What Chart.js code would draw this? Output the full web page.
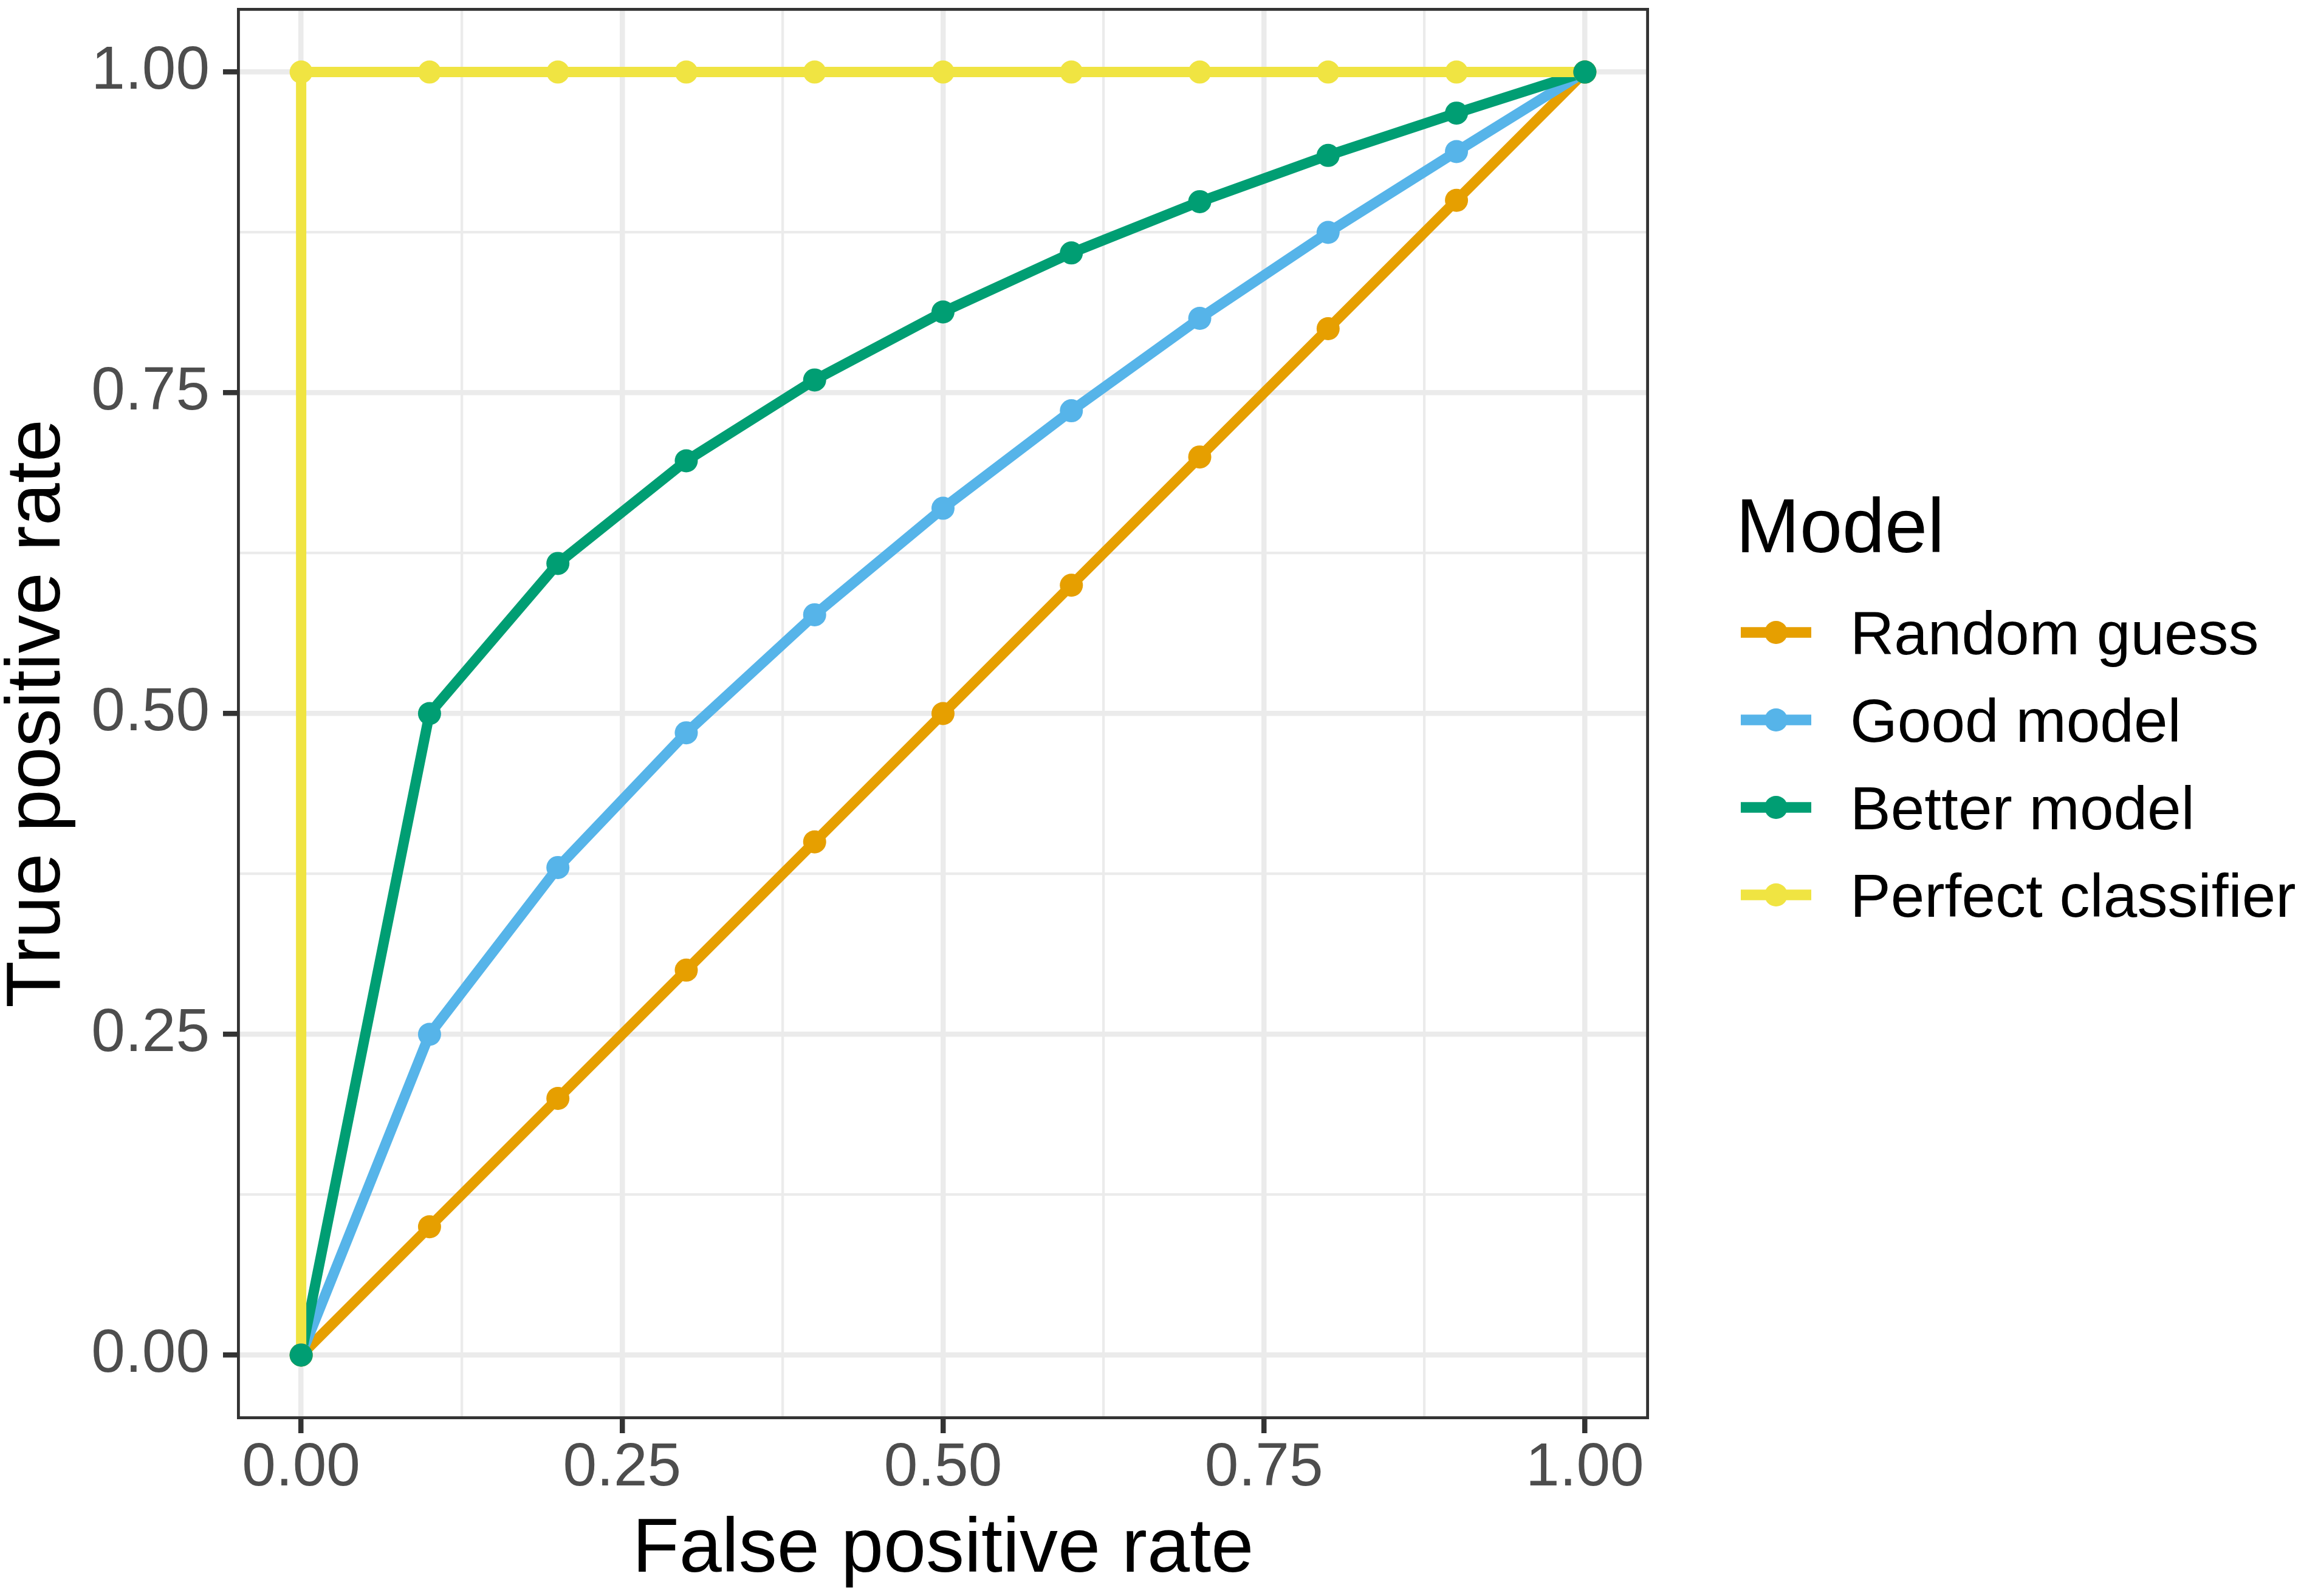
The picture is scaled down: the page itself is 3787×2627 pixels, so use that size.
<!DOCTYPE html>
<html>
<head>
<meta charset="utf-8">
<script src="https://cdn.jsdelivr.net/npm/chart.js@4.4.1/dist/chart.umd.min.js"></script>
<style>
  html, body { margin: 0; padding: 0; background: #ffffff; }
  #wrap { width: 3787px; height: 2627px; position: relative; }
</style>
</head>
<body>
<div id="wrap"><canvas id="c" width="3787" height="2627"></canvas></div>
<script>
// ---- data ----
const seriesNames = ["Random guess", "Good model", "Better model", "Perfect classifier"];
const seriesColors = ["#E69F00", "#56B4E9", "#009E73", "#F0E442"];

const fpr = [0, 0.1, 0.2, 0.3, 0.4, 0.5, 0.6, 0.7, 0.8, 0.9, 1.0];
const randomTpr = [0, 0.1, 0.2, 0.3, 0.4, 0.5, 0.6, 0.7, 0.8, 0.9, 1.0];
const goodTpr = [0, 0.25, 0.38, 0.485, 0.577, 0.66, 0.736, 0.808, 0.875, 0.938, 1.0];
const betterTpr = [0, 0.5, 0.617, 0.697, 0.76, 0.813, 0.859, 0.899, 0.935, 0.968, 1.0];
const perfectFpr = [0, 0, 0.1, 0.2, 0.3, 0.4, 0.5, 0.6, 0.7, 0.8, 0.9, 1.0];
const perfectTpr = [0, 1, 1, 1, 1, 1, 1, 1, 1, 1, 1, 1];

const majorTicks = [0, 0.25, 0.5, 0.75, 1.0];
const minorTicks = [0.125, 0.375, 0.625, 0.875];
const xTitle = "False positive rate";
const yTitle = "True positive rate";
const legendTitle = "Model";

// ---- helpers ----
function pts(xs, ys) { return xs.map((x, i) => ({ x: x, y: ys[i] })); }
const FONT = '"Liberation Sans", Arial, Helvetica, sans-serif';
const isMajor = v => majorTicks.some(m => Math.abs(m - v) < 1e-9);

const seriesData = [
  pts(fpr, randomTpr),
  pts(fpr, goodTpr),
  pts(fpr, betterTpr),
  pts(perfectFpr, perfectTpr)
];

const datasets = [];
// lines (drawn first); last group on top
const lineOrder = [13, 12, 11, 10];
seriesData.forEach((d, i) => {
  datasets.push({
    label: seriesNames[i],
    data: d,
    borderColor: seriesColors[i],
    backgroundColor: seriesColors[i],
    borderWidth: 17,
    borderJoinStyle: 'round',
    borderCapStyle: 'butt',
    pointRadius: 0,
    fill: false,
    tension: 0,
    order: lineOrder[i]
  });
});
// points (drawn over all lines); green on top
const ptOrder = [2, 3, 0, 4];
seriesData.forEach((d, i) => {
  datasets.push({
    label: seriesNames[i] + " points",
    data: d,
    showLine: false,
    pointRadius: 19,
    pointBorderWidth: 0,
    pointBackgroundColor: seriesColors[i],
    pointBorderColor: seriesColors[i],
    order: ptOrder[i]
  });
});

const allTicks = majorTicks.concat(minorTicks).sort((a, b) => a - b);

function axisCommon() {
  return {
    type: 'linear',
    min: -0.05,
    max: 1.05,
    afterBuildTicks: scale => { scale.ticks = allTicks.map(v => ({ value: v })); },
    grid: {
      color: ctx => '#EBEBEB',
      lineWidth: ctx => (ctx.tick && isMajor(ctx.tick.value)) ? 8.5 : 4.25,
      drawTicks: true,
      tickLength: 23,
      tickColor: ctx => (ctx.tick && isMajor(ctx.tick.value)) ? '#333333' : 'rgba(0,0,0,0)',
      tickWidth: ctx => (ctx.tick && isMajor(ctx.tick.value)) ? 8.5 : 0
    },
    border: { display: false },
    ticks: {
      autoSkip: false,
      maxRotation: 0,
      minRotation: 0,
      color: '#4D4D4D',
      font: { family: FONT, size: 100, lineHeight: 1.0 },
      callback: v => isMajor(v) ? Number(v).toFixed(2) : ''
    }
  };
}

const xAxis = axisCommon();
xAxis.position = 'bottom';
xAxis.ticks.padding = 8;
xAxis.title = { display: true, text: xTitle, color: '#000000',
  font: { family: FONT, size: 126, lineHeight: 0.9 }, padding: { top: 0, bottom: 18 } };
xAxis.afterFit = scale => {
  scale.height = 291;
  scale.paddingLeft = 0; scale.paddingRight = 0; scale.paddingTop = 0; scale.paddingBottom = 0;
};

const yAxis = axisCommon();
yAxis.position = 'left';
yAxis.ticks.padding = 22;
yAxis.title = { display: true, text: yTitle, color: '#000000',
  font: { family: FONT, size: 126, lineHeight: 0.9 }, padding: { top: 7, bottom: 0 } };
yAxis.afterFit = scale => {
  scale.width = 390;
  scale.paddingLeft = 0; scale.paddingRight = 0; scale.paddingTop = 0; scale.paddingBottom = 0;
};

const panelBorder = {
  id: 'panelBorder',
  afterDatasetsDraw(chart) {
    const { ctx, chartArea: a } = chart;
    const w = 4.8;
    ctx.save();
    ctx.strokeStyle = '#333333';
    ctx.lineWidth = w;
    ctx.strokeRect(a.left + w / 2, a.top + w / 2, a.right - a.left - w, a.bottom - a.top - w);
    ctx.restore();
  }
};

const ggLegend = {
  id: 'ggLegend',
  afterDraw(chart) {
    const ctx = chart.ctx;
    ctx.save();
    ctx.fillStyle = '#000000';
    ctx.textAlign = 'left';
    ctx.textBaseline = 'alphabetic';
    ctx.font = '126px ' + FONT;
    ctx.fillText(legendTitle, 2857, 909);
    const keyY = [1041, 1185, 1329, 1473];
    seriesNames.forEach((name, i) => {
      const y = keyY[i];
      ctx.strokeStyle = seriesColors[i];
      ctx.lineWidth = 17.7;
      ctx.lineCap = 'butt';
      ctx.beginPath();
      ctx.moveTo(2865, y);
      ctx.lineTo(2981, y);
      ctx.stroke();
      ctx.fillStyle = seriesColors[i];
      ctx.beginPath();
      ctx.arc(2923, y, 19, 0, Math.PI * 2);
      ctx.fill();
      ctx.fillStyle = '#000000';
      ctx.font = '100px ' + FONT;
      ctx.fillText(name, 3045, y + 36);
    });
    ctx.restore();
  }
};

new Chart(document.getElementById('c'), {
  type: 'line',
  data: { datasets: datasets },
  options: {
    responsive: false,
    animation: false,
    events: [],
    parsing: true,
    layout: { autoPadding: false, padding: { top: 13, right: 1073, left: 0, bottom: 0 } },
    plugins: { legend: { display: false }, tooltip: { enabled: false }, title: { display: false } },
    scales: { x: xAxis, y: yAxis }
  },
  plugins: [panelBorder, ggLegend]
});
</script>
</body>
</html>
